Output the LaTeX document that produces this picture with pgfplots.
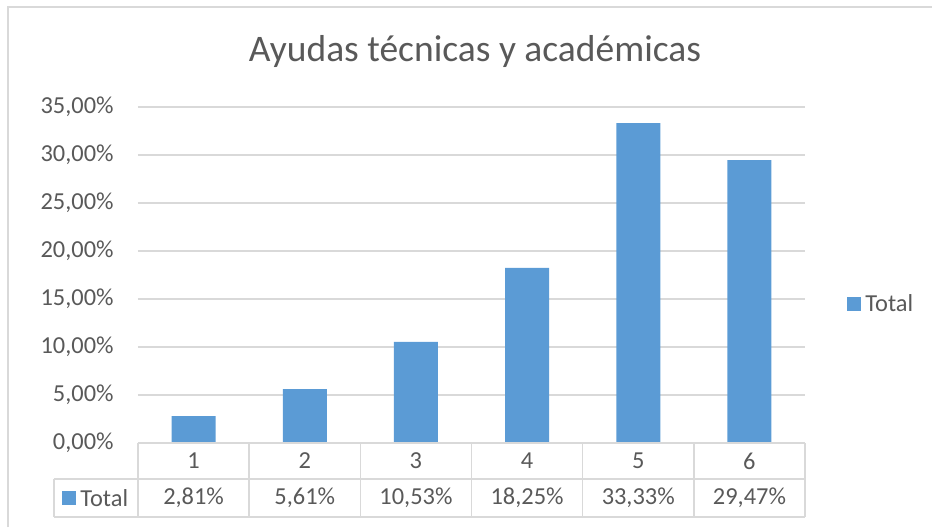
\documentclass[border=0pt]{standalone}
\usepackage{fontspec}
\setmainfont{Carlito}
\usepackage{pgfplots}
\pgfplotsset{compat=1.18}
\definecolor{barblue}{HTML}{5B9BD5}
\definecolor{txt}{HTML}{595959}
\definecolor{gridc}{HTML}{D9D9D9}
\newcommand{\tickfont}{\fontsize{12.2}{15}\selectfont}
\begin{document}
\begin{tikzpicture}[x=1pt,y=1pt]
\useasboundingbox (-69,-42) rectangle (397,221.5);
\draw[gridc, line width=0.7pt] (-65,-42) -- (-65,218) -- (397,218);
\node[font=\fontsize{18.75}{22}\selectfont, text=txt] at (168.5,195.5) {Ayudas técnicas y académicas};
\begin{axis}[
  at={(0,0)}, anchor=south west,
  scale only axis, width=333.5pt, height=168pt,
  xmin=0.5, xmax=6.5, ymin=0, ymax=35,
  ybar, bar width=22pt,
  axis line style={draw=none},
  ymajorgrids, grid style={gridc, line width=0.6pt},
  major tick length=0pt,
  /pgf/number format/assume math mode=true,
  tick label style={font=\tickfont, text=txt},
  ytick={0,5,...,35},
  yticklabels={{0,00\%},{5,00\%},{10,00\%},{15,00\%},{20,00\%},{25,00\%},{30,00\%},{35,00\%}},
  yticklabel style={anchor=east, inner sep=0pt, xshift=-12pt},
  xtick={1,...,6}, xticklabels={1,2,3,4,5,6},
  xticklabel style={anchor=center, inner sep=0pt, yshift=-9pt},
  extra x ticks={1,2,3,4,5,6},
  extra x tick labels={{2,81\%},{5,61\%},{10,53\%},{18,25\%},{33,33\%},{29,47\%}},
  extra x tick style={xticklabel style={yshift=-18.5pt}},
  legend style={draw=none, fill=none, at={(1,0.413)}, anchor=west, xshift=21pt,
    font=\tickfont, text=txt, inner sep=0pt},
  legend image code/.code={\fill[barblue] (0pt,-3.5pt) rectangle (7pt,3.5pt);},
]
\addplot[fill=barblue, draw=none] coordinates {(1,2.81) (2,5.61) (3,10.53) (4,18.25) (5,33.33) (6,29.47)};
\addlegendentry{Total}
\end{axis}
\draw[gridc, line width=0.7pt] (0,0) -- (333.5,0)
  (-42,-18) -- (333.5,-18) (-42,-37) -- (333.5,-37) (-42,-18) -- (-42,-37);
\foreach \i in {0,...,6} \draw[gridc, line width=0.7pt] ({\i*55.583},0) -- ({\i*55.583},-37);
\fill[barblue] (-38,-31) rectangle (-31,-24);
\node[anchor=west, inner sep=0pt, font=\tickfont, text=txt] at (-29,-27.5) {Total};
\end{tikzpicture}
\end{document}
